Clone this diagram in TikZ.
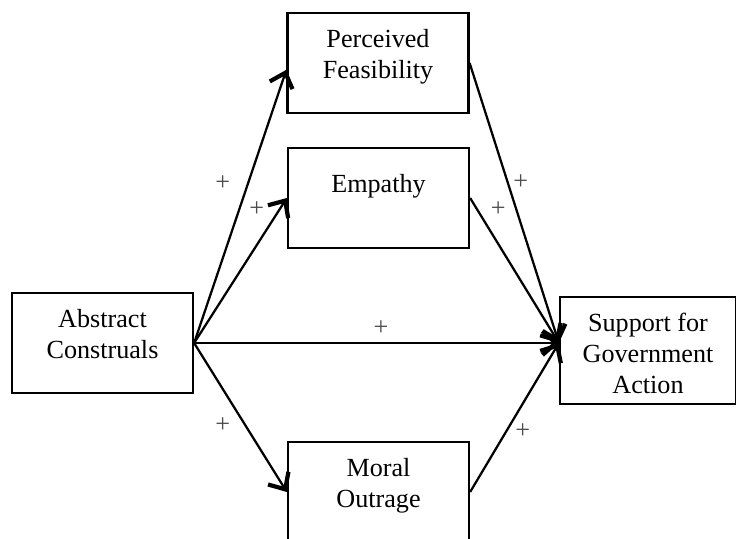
\documentclass[tikz,border=0pt]{standalone}
\usepackage{fontspec}
\setmainfont{Liberation Serif}
\usetikzlibrary{arrows.meta}

\newcommand{\boxtext}[3][9pt]{\parbox[c][#2][t]{4.4cm}{\centering\vspace*{#1}\strut#3}}

\tikzset{
    box/.style={shape=rectangle,draw=black,line width=1.6pt,inner sep=0pt,minimum width=4.525cm},
    link/.style={line width=1.6pt,-{Straight Barb[length=0.33cm,width=0.6cm,line width=3pt]}},
    plus/.style={text=black!70,inner sep=0pt}
}

\begin{document}
\begin{tikzpicture}[font=\fontsize{18.6}{22}\selectfont]
    \useasboundingbox (0,0) rectangle (18.4,13.45);

    \node[box] (ac) at (2.5625,4.875) {\boxtext{2.5cm}{Abstract\\Construals}};
    \node[box] (pf) at (9.45,11.875) {\boxtext{2.5cm}{Perceived\\Feasibility}};
    \node[box] (emp) at (9.4625,8.5) {\boxtext[16pt]{2.5cm}{Empathy}};
    \node[box] (mo) at (9.4625,1.15) {\boxtext{2.5cm}{Moral\\Outrage}};
    \node[box,minimum width=4.225cm] (sup) at (16.2,4.6875) {\boxtext{2.675cm}{Support for\\Government\\Action}};

    \coordinate (hub) at (ac.east -| sup.west);

    % paths from abstract construals
    \draw[link] (ac.east) -- ([yshift=-0.17cm]pf.west);
    \draw[link] (ac.east) -- (emp.west);
    \draw[link] (ac.east) -- (hub);
    \draw[link] (ac.east) -- (mo.west);
    % paths to support
    \draw[link] (pf.east) -- (hub);
    \draw[link] (emp.east) -- (hub);
    \draw[link] (mo.east) -- (hub);

    \node[plus] (p1) at (5.567,8.8825) {+};
    \node[plus] (p2) at (6.4175,8.225) {+};
    \node[plus] (p3) at (9.525,5.25) {+};
    \node[plus] (p4) at (5.567,2.825) {+};
    \node[plus] (p5) at (13.0175,8.9075) {+};
    \node[plus] (p6) at (12.4575,8.2175) {+};
    \node[plus] (p7) at (13.0675,2.6825) {+};
\end{tikzpicture}
\end{document}
